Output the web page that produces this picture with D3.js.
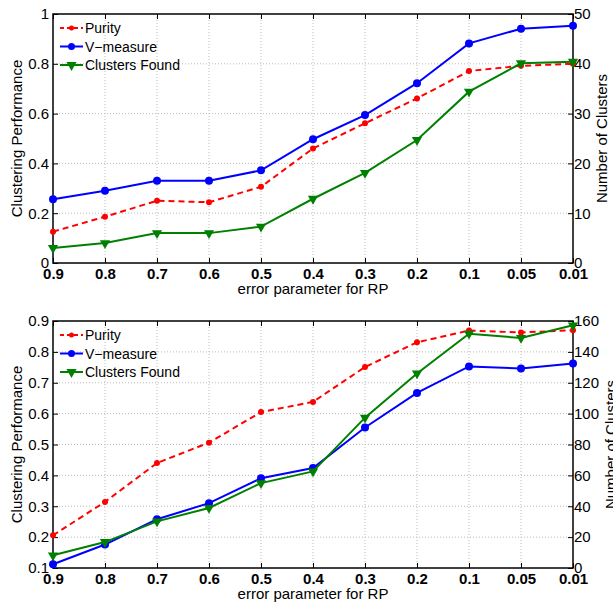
<!DOCTYPE html>
<html>
<head>
<meta charset="utf-8">
<script src="https://cdn.jsdelivr.net/npm/d3@7"></script>
<style>
  body { margin: 0; background: #fff; }
  svg { font-family: "Liberation Sans", Arial, sans-serif; }
</style>
</head>
<body>
<svg width="613" height="603"></svg>
<script>
// x categories (error parameter for RP)
let categories = ['0.9','0.8','0.7','0.6','0.5','0.4','0.3','0.2','0.1','0.05','0.01']

// top panel
let purityTop = [0.126,0.186,0.25,0.244,0.306,0.46,0.561,0.661,0.771,0.792,0.80]
let vmeasureTop = [0.256,0.29,0.33,0.33,0.372,0.497,0.594,0.722,0.882,0.941,0.953]
let clustersTop = [3,4,6,6,7.3,12.9,18.1,24.7,34.4,40.1,40.4]
let leftTicksTop = [0,0.2,0.4,0.6,0.8,1]
let rightTicksTop = [0,10,20,30,40,50]

// bottom panel
let purityBot = [0.206,0.314,0.44,0.506,0.605,0.638,0.751,0.831,0.869,0.863,0.87]
let vmeasureBot = [0.112,0.176,0.258,0.31,0.391,0.424,0.555,0.667,0.753,0.746,0.762]
let clustersBot = [8.2,16.8,30.2,38.9,55,62.6,97.4,126,151.8,149,157.2]
let leftTicksBot = [0.1,0.2,0.3,0.4,0.5,0.6,0.7,0.8,0.9]
let rightTicksBot = [0,20,40,60,80,100,120,140,160]

let svg = d3.select('svg')

function drawPanel(top, bottom, purity, vmeasure, clusters, leftTicks, rightTicks, rightLabelX) {
  let left = 53, right = 573
  let x = d3.scalePoint().domain(categories).range([left, right])
  let yL = d3.scaleLinear().domain(d3.extent(leftTicks)).range([bottom, top])
  let yR = d3.scaleLinear().domain(d3.extent(rightTicks)).range([bottom, top])
  let g = svg.append('g')

  // dotted grid
  g.selectAll('.gx').data(categories.slice(1, -1)).enter().append('line')
    .attr('x1', d => x(d)).attr('x2', d => x(d))
    .attr('y1', top).attr('y2', bottom)
    .attr('stroke', '#bbb').attr('stroke-width', 1).attr('stroke-dasharray', '1,2')
  g.selectAll('.gy').data(leftTicks.slice(1, -1)).enter().append('line')
    .attr('x1', left).attr('x2', right)
    .attr('y1', d => yL(d)).attr('y2', d => yL(d))
    .attr('stroke', '#bbb').attr('stroke-width', 1).attr('stroke-dasharray', '1,2')

  // axes (ticks inward)
  let fmt = d => d
  let axB = g.append('g').attr('transform', `translate(0,${bottom})`)
    .call(d3.axisBottom(x).tickSize(-5).tickPadding(5))
  axB.selectAll('text').attr('font-size', 15).attr('font-weight', 'bold').attr('fill', '#000')
  g.append('g').attr('transform', `translate(0,${top})`)
    .call(d3.axisTop(x).tickSize(-5).tickFormat(''))
  let axL = g.append('g').attr('transform', `translate(${left},0)`)
    .call(d3.axisLeft(yL).tickValues(leftTicks).tickFormat(fmt).tickSize(-5).tickPadding(4))
  axL.selectAll('text').attr('font-size', 15).attr('fill', '#000')
  let axR = g.append('g').attr('transform', `translate(${right},0)`)
    .call(d3.axisRight(yR).tickValues(rightTicks).tickSize(-5).tickPadding(1))
  axR.selectAll('text').attr('font-size', 15).attr('fill', '#000')
  g.selectAll('.domain').remove()
  g.selectAll('.tick line').attr('stroke', '#000').attr('stroke-width', 1)

  g.append('rect')
    .attr('x', left).attr('y', top).attr('width', right - left).attr('height', bottom - top)
    .attr('fill', 'none').attr('stroke', '#000').attr('stroke-width', 1.5)

  // axis labels
  g.append('text').attr('x', (left + right) / 2).attr('y', bottom + 31)
    .attr('text-anchor', 'middle').attr('font-size', 15).text('error parameter for RP')
  g.append('text').attr('transform', `translate(22,${(top + bottom) / 2}) rotate(-90)`)
    .attr('text-anchor', 'middle').attr('font-size', 15).text('Clustering Performance')
  g.append('text').attr('transform', `translate(${rightLabelX},${(top + bottom) / 2}) rotate(-90)`)
    .attr('text-anchor', 'middle').attr('font-size', 15).text('Number of Clusters')

  let line = d3.line().x((d, i) => x(categories[i]))

  // purity
  g.append('path').datum(purity)
    .attr('d', line.y(d => yL(d)))
    .attr('fill', 'none').attr('stroke', '#ff0000').attr('stroke-width', 2).attr('stroke-dasharray', '6,4')
  g.selectAll('.pp').data(purity).enter().append('circle')
    .attr('cx', (d, i) => x(categories[i])).attr('cy', d => yL(d)).attr('r', 3).attr('fill', '#ff0000')

  // v-measure
  g.append('path').datum(vmeasure)
    .attr('d', line.y(d => yL(d)))
    .attr('fill', 'none').attr('stroke', '#0000ff').attr('stroke-width', 2)
  g.selectAll('.vp').data(vmeasure).enter().append('circle')
    .attr('cx', (d, i) => x(categories[i])).attr('cy', d => yL(d)).attr('r', 4).attr('fill', '#0000ff')

  // clusters found (right axis)
  g.append('path').datum(clusters)
    .attr('d', line.y(d => yR(d)))
    .attr('fill', 'none').attr('stroke', '#008000').attr('stroke-width', 2)
  let tri = d3.symbol().type(d3.symbolTriangle).size(45)
  g.selectAll('.cp').data(clusters).enter().append('path')
    .attr('d', tri)
    .attr('transform', (d, i) => `translate(${x(categories[i])},${yR(d)}) rotate(180)`)
    .attr('fill', '#008000')

  // legend
  let items = [
    {name: 'Purity', color: '#ff0000', dash: '4,3', mark: 'circle', r: 2.5},
    {name: 'V\u2212measure', color: '#0000ff', dash: null, mark: 'circle', r: 3.5},
    {name: 'Clusters Found', color: '#008000', dash: null, mark: 'tri'}
  ]
  let lg = g.append('g').attr('transform', `translate(60,${top + 14})`)
  items.forEach((it, i) => {
    let yy = i * 18.5
    lg.append('line').attr('x1', 0).attr('x2', 23).attr('y1', yy).attr('y2', yy)
      .attr('stroke', it.color).attr('stroke-width', 2).attr('stroke-dasharray', it.dash)
    if (it.mark === 'circle') {
      lg.append('circle').attr('cx', 11.5).attr('cy', yy).attr('r', it.r).attr('fill', it.color)
    } else {
      lg.append('path').attr('d', tri).attr('transform', `translate(11.5,${yy}) rotate(180)`).attr('fill', it.color)
    }
    lg.append('text').attr('x', 25).attr('y', yy + 5).attr('font-size', 14).text(it.name)
  })
}

drawPanel(14, 263, purityTop, vmeasureTop, clustersTop, leftTicksTop, rightTicksTop, 607)
drawPanel(321, 568, purityBot, vmeasureBot, clustersBot, leftTicksBot, rightTicksBot, 616)
</script>
</body>
</html>
